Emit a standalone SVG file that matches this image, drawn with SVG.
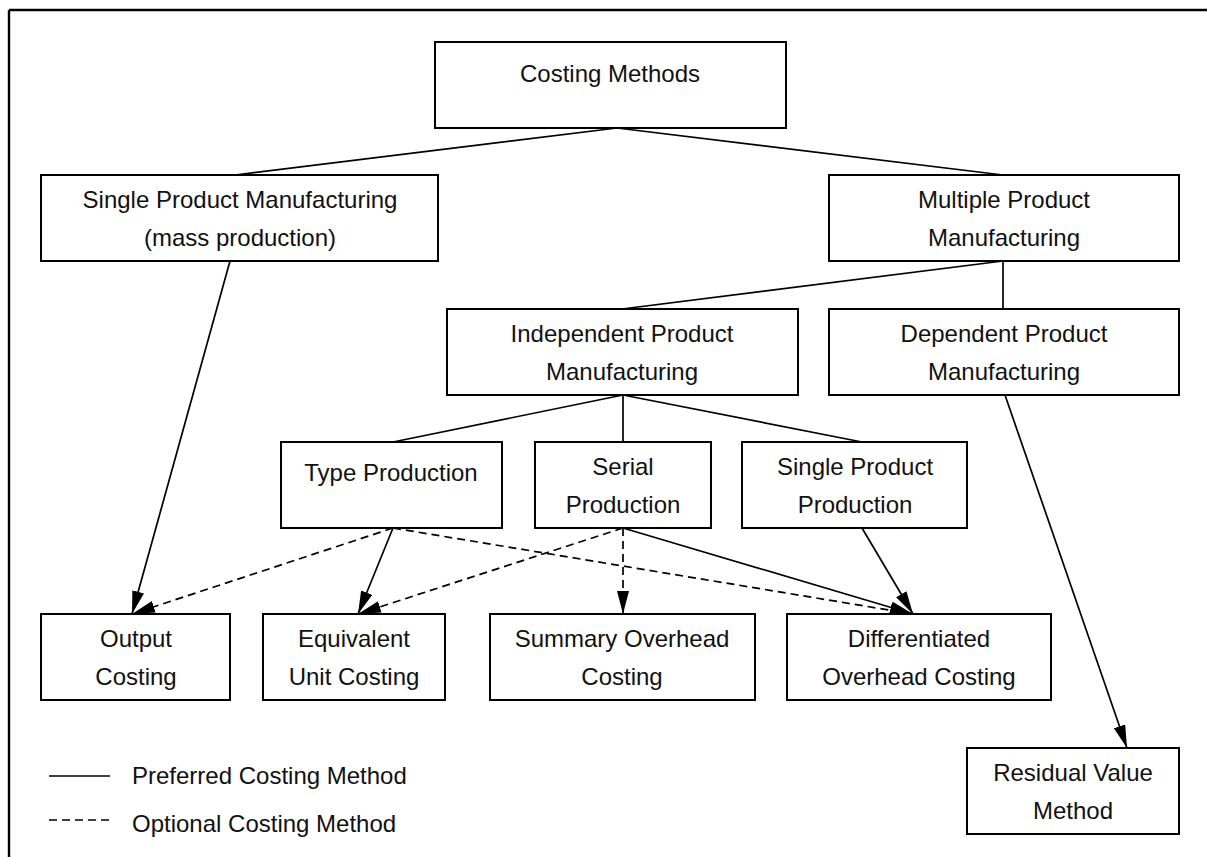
<svg xmlns="http://www.w3.org/2000/svg" width="1207" height="857" viewBox="0 0 1207 857">
  <style>
    .box { fill: #ffffff; stroke: #000000; stroke-width: 2; }
    .lbl { font-family: "Liberation Sans", Arial, Helvetica, sans-serif; font-size: 24px; fill: #111111; text-anchor: middle; }
    .leg { font-family: "Liberation Sans", Arial, Helvetica, sans-serif; font-size: 24px; fill: #111111; }
    .ln { fill: none; stroke: #000000; stroke-width: 1.7; }
    .arr { fill: none; stroke: #000000; stroke-width: 1.7; marker-end: url(#head); }
    .dash { stroke-dasharray: 8 5; }
  </style>
  <defs>
    <marker id="head" viewBox="0 0 23 12" refX="23" refY="6" markerWidth="23" markerHeight="12" markerUnits="userSpaceOnUse" orient="auto">
      <path d="M0,0 L23,6 L0,12 Z" fill="#000000"/>
    </marker>
  </defs>

  <rect width="1207" height="857" fill="#ffffff"/>

  <!-- page frame: top and left edges -->
  <path d="M9,10 H1207 M9,10 V857" fill="none" stroke="#000000" stroke-width="2.4"/>

  <g id="connectors">
    <!-- tree links -->
    <path class="ln" d="M617,128 L235,175"/>
    <path class="ln" d="M617,128 L1003,175"/>
    <path class="ln" d="M1003,261 L622,309"/>
    <path class="ln" d="M1003,261 L1003,309"/>
    <path class="ln" d="M623,395 L393,442"/>
    <path class="ln" d="M623,395 L623,442"/>
    <path class="ln" d="M623,395 L862,442"/>
    <!-- preferred methods -->
    <path class="arr" d="M230,261 L132,614"/>
    <path class="arr" d="M393,528 L358,614"/>
    <path class="arr" d="M623,528 L913,614"/>
    <path class="arr" d="M862,528 L913,614"/>
    <path class="arr" d="M1005,395 L1127,748"/>
    <!-- optional methods -->
    <path class="arr dash" d="M393,528 L132,614"/>
    <path class="arr dash" d="M393,528 L913,614"/>
    <path class="arr dash" d="M623,528 L358,614"/>
    <path class="arr dash" d="M623,528 L623,614"/>
  </g>

  <g id="costing-methods">
    <rect class="box" x="435" y="42" width="351" height="86"/>
    <text class="lbl" x="610" y="82">Costing Methods</text>
  </g>
  <g id="single-product-manufacturing">
    <rect class="box" x="41" y="175" width="397" height="86"/>
    <text class="lbl" x="240" y="208">Single Product Manufacturing</text>
    <text class="lbl" x="240" y="246">(mass production)</text>
  </g>
  <g id="multiple-product-manufacturing">
    <rect class="box" x="829" y="175" width="350" height="86"/>
    <text class="lbl" x="1004" y="208">Multiple Product</text>
    <text class="lbl" x="1004" y="246">Manufacturing</text>
  </g>
  <g id="independent-product-manufacturing">
    <rect class="box" x="447" y="309" width="351" height="86"/>
    <text class="lbl" x="622" y="342">Independent Product</text>
    <text class="lbl" x="622" y="380">Manufacturing</text>
  </g>
  <g id="dependent-product-manufacturing">
    <rect class="box" x="829" y="309" width="350" height="86"/>
    <text class="lbl" x="1004" y="342">Dependent Product</text>
    <text class="lbl" x="1004" y="380">Manufacturing</text>
  </g>
  <g id="type-production">
    <rect class="box" x="281" y="442" width="221" height="86"/>
    <text class="lbl" x="391" y="481">Type Production</text>
  </g>
  <g id="serial-production">
    <rect class="box" x="535" y="442" width="176" height="86"/>
    <text class="lbl" x="623" y="475">Serial</text>
    <text class="lbl" x="623" y="513">Production</text>
  </g>
  <g id="single-product-production">
    <rect class="box" x="742" y="442" width="225" height="86"/>
    <text class="lbl" x="855" y="475">Single Product</text>
    <text class="lbl" x="855" y="513">Production</text>
  </g>
  <g id="output-costing">
    <rect class="box" x="41" y="614" width="189" height="86"/>
    <text class="lbl" x="136" y="647">Output</text>
    <text class="lbl" x="136" y="685">Costing</text>
  </g>
  <g id="equivalent-unit-costing">
    <rect class="box" x="263" y="614" width="182" height="86"/>
    <text class="lbl" x="354" y="647">Equivalent</text>
    <text class="lbl" x="354" y="685">Unit Costing</text>
  </g>
  <g id="summary-overhead-costing">
    <rect class="box" x="490" y="614" width="265" height="86"/>
    <text class="lbl" x="622" y="647">Summary Overhead</text>
    <text class="lbl" x="622" y="685">Costing</text>
  </g>
  <g id="differentiated-overhead-costing">
    <rect class="box" x="787" y="614" width="264" height="86"/>
    <text class="lbl" x="919" y="647">Differentiated</text>
    <text class="lbl" x="919" y="685">Overhead Costing</text>
  </g>
  <g id="residual-value-method">
    <rect class="box" x="967" y="748" width="212" height="86"/>
    <text class="lbl" x="1073" y="781">Residual Value</text>
    <text class="lbl" x="1073" y="819">Method</text>
  </g>

  <g id="legend">
    <path class="ln" d="M49,776 H110"/>
    <text class="leg" x="132" y="784">Preferred Costing Method</text>
    <path class="ln dash" d="M49,820 H110"/>
    <text class="leg" x="132" y="832">Optional Costing Method</text>
  </g>
</svg>
